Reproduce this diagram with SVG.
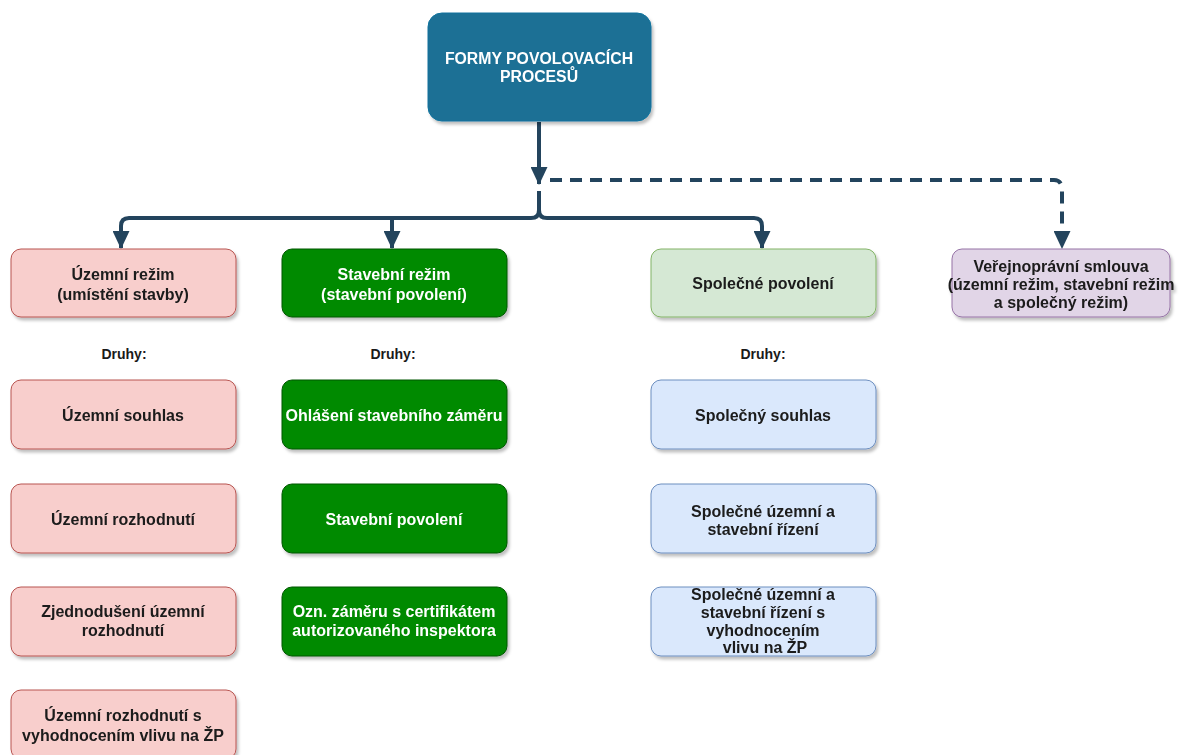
<svg xmlns="http://www.w3.org/2000/svg" width="1181" height="755" viewBox="0 0 1181 755">
<style>
text{font-family:"Liberation Sans",Arial,sans-serif;font-weight:bold;font-size:16px;text-anchor:middle;fill:#1a1a1a}
.w{fill:#ffffff}
.t{font-size:15.8px}
.lbl{font-size:14px}
.pink{fill:#f8cecc;stroke:#b85450;stroke-width:1}
.grn{fill:#008a00;stroke:#005700;stroke-width:1}
.lg{fill:#d5e8d4;stroke:#82b366;stroke-width:1}
.blue{fill:#dae8fc;stroke:#6c8ebf;stroke-width:1}
.pur{fill:#e1d5e7;stroke:#9673a6;stroke-width:1}
.top{fill:#1b6f95;stroke:#10739e;stroke-width:1}
.e{fill:none;stroke:#23445d;stroke-width:4}
.d{stroke-dasharray:12 8}
</style>
<defs>
<filter id="sh" x="-10%" y="-10%" width="125%" height="130%">
<feDropShadow dx="2" dy="3" stdDeviation="1.5" flood-color="#000" flood-opacity="0.25"/>
</filter>
<marker id="ar" viewBox="0 0 18 17" refX="17" refY="8.5" markerWidth="18" markerHeight="17" markerUnits="userSpaceOnUse" orient="auto">
<path d="M0,0 L18,8.5 L0,17 Z" fill="#23445d"/>
</marker>
</defs>

<g id="connectors">
<path class="e" d="M539,122 V184" marker-end="url(#ar)"/>
<path class="e" d="M539,191 V210 Q539,218 531,218 H129 Q121,218 121,226 V248" marker-end="url(#ar)"/>
<path class="e" d="M539,210 Q539,218 547,218 H754 Q762,218 762,226 V248" marker-end="url(#ar)"/>
<path class="e" d="M392,218 V248" marker-end="url(#ar)"/>
<path class="e d" d="M550,180 H1054 Q1062,180 1062,190 V248" marker-end="url(#ar)"/>
</g>

<g id="n-top" filter="url(#sh)">
<rect class="top" x="428" y="13" width="223" height="108" rx="14"/>
<text class="w t" x="539" y="64">FORMY POVOLOVACÍCH</text>
<text class="w t" x="539" y="82">PROCESŮ</text>
</g>

<g id="n-uzemni-rezim" filter="url(#sh)">
<rect class="pink" x="11" y="249" width="225" height="68" rx="10"/>
<text x="123" y="280">Územní režim</text>
<text x="123" y="300">(umístění stavby)</text>
</g>
<g id="n-stavebni-rezim" filter="url(#sh)">
<rect class="grn" x="282" y="249" width="225" height="68" rx="10"/>
<text class="w" x="394" y="280">Stavební režim</text>
<text class="w" x="394" y="300">(stavební povolení)</text>
</g>
<g id="n-spolecne-povoleni" filter="url(#sh)">
<rect class="lg" x="651" y="249" width="225" height="68" rx="10"/>
<text x="763" y="289">Společné povolení</text>
</g>
<g id="n-verejnopravni" filter="url(#sh)">
<rect class="pur" x="952" y="249" width="218" height="68" rx="10"/>
<text x="1061" y="272">Veřejnoprávní smlouva</text>
<text x="1061" y="290">(územní režim, stavební režim</text>
<text x="1061" y="308">a společný režim)</text>
</g>

<g id="labels">
<text class="lbl" x="124" y="359">Druhy:</text>
<text class="lbl" x="393" y="359">Druhy:</text>
<text class="lbl" x="763" y="359">Druhy:</text>
</g>

<g id="n-uzemni-souhlas" filter="url(#sh)">
<rect class="pink" x="11" y="380" width="225" height="69" rx="10"/>
<text x="123" y="421">Územní souhlas</text>
</g>
<g id="n-uzemni-rozhodnuti" filter="url(#sh)">
<rect class="pink" x="11" y="484" width="225" height="69" rx="10"/>
<text x="123" y="525">Územní rozhodnutí</text>
</g>
<g id="n-zjednodusene" filter="url(#sh)">
<rect class="pink" x="11" y="587" width="225" height="69" rx="10"/>
<text x="123" y="617">Zjednodušení územní</text>
<text x="123" y="636">rozhodnutí</text>
</g>
<g id="n-uzemni-rozhodnuti-zp" filter="url(#sh)">
<rect class="pink" x="11" y="690" width="225" height="69" rx="10"/>
<text x="123" y="721">Územní rozhodnutí s</text>
<text x="123" y="741">vyhodnocením vlivu na ŽP</text>
</g>

<g id="n-ohlaseni" filter="url(#sh)">
<rect class="grn" x="282" y="380" width="225" height="69" rx="10"/>
<text class="w" x="394" y="421">Ohlášení stavebního záměru</text>
</g>
<g id="n-stavebni-povoleni" filter="url(#sh)">
<rect class="grn" x="282" y="484" width="225" height="69" rx="10"/>
<text class="w" x="394" y="525">Stavební povolení</text>
</g>
<g id="n-ozn-zameru" filter="url(#sh)">
<rect class="grn" x="282" y="587" width="225" height="69" rx="10"/>
<text class="w" x="394" y="617">Ozn. záměru s certifikátem</text>
<text class="w" x="394" y="636">autorizovaného inspektora</text>
</g>

<g id="n-spolecny-souhlas" filter="url(#sh)">
<rect class="blue" x="651" y="380" width="225" height="69" rx="10"/>
<text x="763" y="421">Společný souhlas</text>
</g>
<g id="n-spolecne-rizeni" filter="url(#sh)">
<rect class="blue" x="651" y="484" width="225" height="69" rx="10"/>
<text x="763" y="517">Společné územní a</text>
<text x="763" y="535">stavební řízení</text>
</g>
<g id="n-spolecne-rizeni-zp" filter="url(#sh)">
<rect class="blue" x="651" y="587" width="225" height="69" rx="10"/>
<text x="763" y="600">Společné územní a</text>
<text x="763" y="618">stavební řízení s</text>
<text x="763" y="636">vyhodnocením</text>
<text x="765" y="653">vlivu na ŽP</text>
</g>
</svg>
